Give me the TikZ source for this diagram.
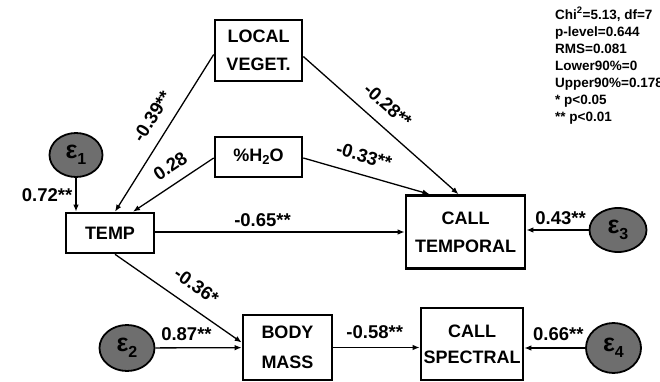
\documentclass[tikz,border=0pt]{standalone}
\usepackage{fontspec}
\setmainfont{Liberation Sans}
\usepackage{xcolor}
\usepackage{tikz}
\usetikzlibrary{arrows.meta,shapes.geometric}
\definecolor{errgray}{HTML}{6E6E6E}
\newcommand{\errsym}[1]{ε\raisebox{-6pt}{\fontsize{16}{16}\selectfont #1}}

\tikzset{
  var/.style={draw,line width=2.6pt,align=center,inner sep=0pt,
    font=\fontsize{18}{28}\selectfont\bfseries},
  err/.style={ellipse,draw,line width=1.8pt,fill=errgray,inner sep=0pt,
    minimum width=55pt,minimum height=46pt,font=\fontsize{25}{25}\selectfont\bfseries},
  coef/.style={font=\fontsize{18.5}{18.5}\selectfont\bfseries,inner sep=1pt},
  link/.style={-{Latex[length=7pt,width=5.5pt]},line width=1.3pt}
}

\begin{document}
\begin{tikzpicture}[x=1pt,y=-1pt]
  \useasboundingbox (0,0) rectangle (660,382);
  \node[var,minimum width=87pt,minimum height=61pt] (local) at (258.5,50.5) {LOCAL\\VEGET.};
  \node[var,minimum width=87pt,minimum height=40pt] (water) at (258.5,157) {\%H\raisebox{-3pt}{\fontsize{13}{13}\selectfont 2}O};
  \node[var,minimum width=88pt,minimum height=40pt] (temp) at (110,233) {TEMP};
  \node[var,minimum width=119pt,minimum height=73pt] (calltemp) at (465.5,232) {CALL\\TEMPORAL};
  \node[var,minimum width=89pt,minimum height=65pt,font=\fontsize{18}{30}\selectfont\bfseries] (body) at (287.5,347.5) {BODY\\MASS};
  \node[var,minimum width=102pt,minimum height=72pt,font=\fontsize{18}{26}\selectfont\bfseries] (callspec) at (472,344) {CALL\\SPECTRAL};
  \node[err,minimum width=53pt,minimum height=44pt] (e1) at (76,155) {\errsym{1}};
  \node[err] (e2) at (127,348) {\errsym{2}};
  \node[err,minimum width=57pt,minimum height=44pt] (e3) at (618,230) {\errsym{3}};
  \node[err,minimum height=50pt] (e4) at (613.5,348) {\errsym{4}};

  \draw[link] (e1) -- (e1 |- temp.north) node[coef,midway,left=2pt] (c1) {0.72**};
  \draw[link] ([yshift=-4pt]local.west) -- ([xshift=5pt]temp.north) node[coef,sloped,pos=0.46,above=11pt] (c2) {-0.39**};
  \draw[link] ([yshift=-1pt]water.west) -- ([xshift=23pt]temp.north) node[coef,sloped,pos=0.42,above=9pt] (c3) {0.28};
  \draw[link] ([yshift=-6pt]local.east) -- ([xshift=-7pt]calltemp.north) node[coef,sloped,pos=0.46,above=11.5pt] (c4) {-0.28**};
  \draw[link] ([yshift=-1pt]water.east) -- ([xshift=-36pt]calltemp.north) node[coef,sloped,pos=0.44,above=10.5pt] (c5) {-0.33**};
  \draw[link] (temp.east |- calltemp) -- (calltemp.west) node[coef,pos=0.43,above=3.5pt] (c6) {-0.65**};
  \draw[link] (e3.west) -- (e3.west -| calltemp.east) node[coef,pos=0.45,above=3.5pt] (c7) {0.43**};
  \draw[link] ([xshift=5pt]temp.south) -- ([yshift=5pt]body.west) node[coef,sloped,pos=0.55,above=12.5pt] (c8) {-0.36*};
  \draw[link] (e2) -- (body) node[coef,pos=0.36,above=5.5pt] (c9) {0.87**};
  \draw[link] (body.east) -- (body.east -| callspec.west) node[coef,pos=0.48,above=7.5pt] (c10) {-0.58**};
  \draw[link] (e4.west) -- (e4.west -| callspec.east) node[coef,pos=0.44,above=5.5pt] (c11) {0.66**};

  \node[anchor=north west,align=left,inner sep=0pt,font=\fontsize{13.5}{17}\selectfont\bfseries] (fit) at (555,7)
    {Chi\textsuperscript{2}=5.13, df=7\\p-level=0.644\\RMS=0.081\\Lower90\%=0\\Upper90\%=0.178\\* p<0.05\\** p<0.01};
\end{tikzpicture}
\end{document}
